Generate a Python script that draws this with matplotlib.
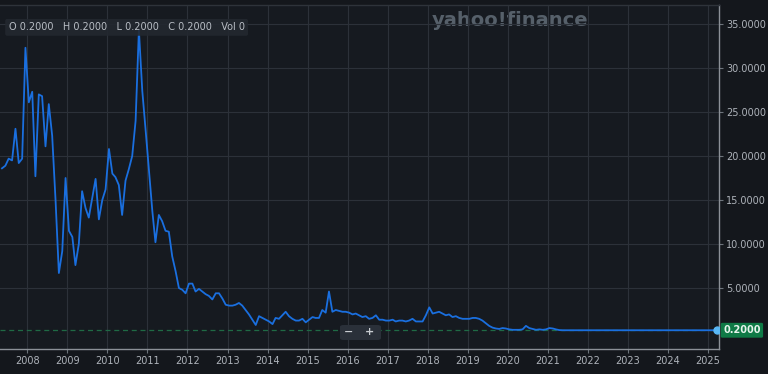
import matplotlib
matplotlib.use("Agg")
import matplotlib.pyplot as plt
import matplotlib.dates as mdates
from matplotlib.patches import FancyBboxPatch
import numpy as np
import pandas as pd

# ===================== data (monthly close) =====================
start_month = "2007-05"
closes = [
    18.6, 18.9, 19.7, 19.5, 23.1, 19.2, 19.7, 32.3,               # 2007-05 .. 2007-12
    26.1, 27.3, 17.7, 27.0, 26.8, 21.1, 25.9, 22.3, 14.9, 6.7, 9.2, 17.5,   # 2008
    11.5, 10.8, 7.6, 10.0, 16.0, 14.1, 13.0, 15.2, 17.4, 12.8, 15.0, 16.2,  # 2009
    20.8, 18.0, 17.6, 16.7, 13.3, 17.2, 18.5, 20.0, 24.0, 34.3, 27.4, 23.0,  # 2010
    18.3, 13.7, 10.2, 13.3, 12.6, 11.5, 11.4, 8.6, 6.9, 5.0, 4.8, 4.4,      # 2011
    5.5, 5.5, 4.6, 4.9, 4.6, 4.3, 4.1, 3.7, 4.4, 4.4, 3.8, 3.1,            # 2012
    3.0, 3.0, 3.1, 3.3, 3.0, 2.5, 2.0, 1.4, 0.8, 1.8, 1.6, 1.4,            # 2013
    1.2, 0.9, 1.6, 1.5, 1.9, 2.3, 1.8, 1.5, 1.3, 1.3, 1.5, 1.1,            # 2014
    1.4, 1.7, 1.6, 1.6, 2.5, 2.2, 4.6, 2.3, 2.5, 2.4, 2.3, 2.3,            # 2015
    2.2, 2.0, 2.1, 1.9, 1.7, 1.8, 1.5, 1.6, 1.9, 1.4, 1.4, 1.3,            # 2016
    1.3, 1.4, 1.2, 1.3, 1.3, 1.2, 1.3, 1.5, 1.2, 1.2, 1.2, 1.9,            # 2017
    2.8, 2.1, 2.2, 2.3, 2.1, 1.9, 2.0, 1.7, 1.8, 1.6, 1.5, 1.5,            # 2018
    1.5, 1.6, 1.6, 1.5, 1.3, 1.0, 0.7, 0.5, 0.4, 0.35, 0.45, 0.4,          # 2019
    0.3, 0.25, 0.25, 0.25, 0.3, 0.7, 0.45, 0.35, 0.25, 0.3, 0.25, 0.3,     # 2020
    0.45, 0.4, 0.3, 0.22,                                                 # 2021-01 .. 04
]
flat_until = "2025-03"
last_price = 0.2

# monthly points sit mid-month
dates = pd.date_range(start_month, periods=len(closes), freq="MS")
tail = pd.date_range(dates[-1] + pd.DateOffset(months=1), flat_until, freq="MS")
dates = dates.append(tail) + pd.Timedelta(days=14)
values = np.array(closes + [last_price] * len(tail))
dates = dates.append(pd.DatetimeIndex(["2025-03-20"]))
values = np.append(values, last_price)

y_ticks = [5, 10, 15, 20, 25, 30, 35]
years = list(range(2008, 2026))

# ===================== style =====================
bg = "#14171c"
grid_c = "#2c3139"
text_c = "#aeb3ba"
line_c = "#1a6fdf"

fig = plt.figure(figsize=(7.68, 3.74), dpi=100, facecolor=bg)
ax = fig.add_axes([0.0, 25 / 374, 719 / 768, 344 / 374])
ax.set_facecolor("#161a20")

ax.plot(dates, values, color=line_c, lw=1.3, solid_joinstyle="round", zorder=3)
ax.plot(dates[-1], values[-1], "o", ms=5, color="#5ab8f5", zorder=4)
ax.axhline(last_price, color="#1f6a45", lw=0.9, ls=(0, (4, 3)), zorder=2)

ax.set_xlim(pd.Timestamp("2007-04-27"), pd.Timestamp("2025-04-11"))
ax.set_ylim(-1.93, 37.16)

ax.set_xticks([pd.Timestamp(f"{y}-01-01") for y in years])
ax.xaxis.set_major_formatter(mdates.DateFormatter("%Y"))
ax.set_yticks(y_ticks)
ax.yaxis.set_major_formatter(plt.FuncFormatter(lambda v, p: f"{v:.4f}"))
ax.yaxis.tick_right()

ax.grid(True, color=grid_c, lw=0.8)
ax.tick_params(colors="#6d737b", labelcolor=text_c, labelsize=7, length=3, width=0.8, pad=2)
ax.spines["left"].set_visible(False)
ax.spines["right"].set_color("#8b9097")
ax.spines["bottom"].set_color("#8b9097")
ax.spines["top"].set_color("#2e333a")
for s in ["right", "bottom", "top"]:
    ax.spines[s].set_linewidth(1.0)

# price tag on right axis
ax.annotate(
    f"{last_price:.4f}", xy=(1.0, last_price), xycoords=("axes fraction", "data"),
    xytext=(3, 0), textcoords="offset points", ha="left", va="center",
    fontsize=7, color="#e6f4ec", fontweight="bold",
    bbox=dict(boxstyle="round,pad=0.25,rounding_size=0.15", fc="#0f7a46", ec="none"),
    annotation_clip=False, zorder=6,
)

# OHLC legend
ax.text(
    0.012, 0.935, "O 0.2000   H 0.2000   L 0.2000   C 0.2000   Vol 0",
    transform=ax.transAxes, ha="left", va="center", fontsize=7, color="#b9bec5",
    bbox=dict(boxstyle="round,pad=0.35,rounding_size=0.2", fc="#23282f", ec="none", alpha=0.9),
    zorder=6,
)

# watermark
ax.text(0.71, 0.955, "yahoo!finance", transform=ax.transAxes, ha="center", va="center",
        fontsize=14, fontweight="bold", color="#56606a", zorder=1)

# zoom control
zb = FancyBboxPatch((340 / 719, (349 - 340) / 344), 41 / 719, 15 / 344,
                    boxstyle="round,pad=0,rounding_size=0.005", transform=ax.transAxes,
                    fc="#2a3039", ec="none", zorder=5)
ax.add_patch(zb)
ax.text(349 / 719, (349 - 332) / 344, "\u2212", transform=ax.transAxes, ha="center",
        va="center", fontsize=8, color="#c8ccd1", fontweight="bold", zorder=6)
ax.text(370 / 719, (349 - 332) / 344, "+", transform=ax.transAxes, ha="center",
        va="center", fontsize=8, color="#c8ccd1", fontweight="bold", zorder=6)

fig.savefig("out.png", dpi=100, facecolor=bg)
